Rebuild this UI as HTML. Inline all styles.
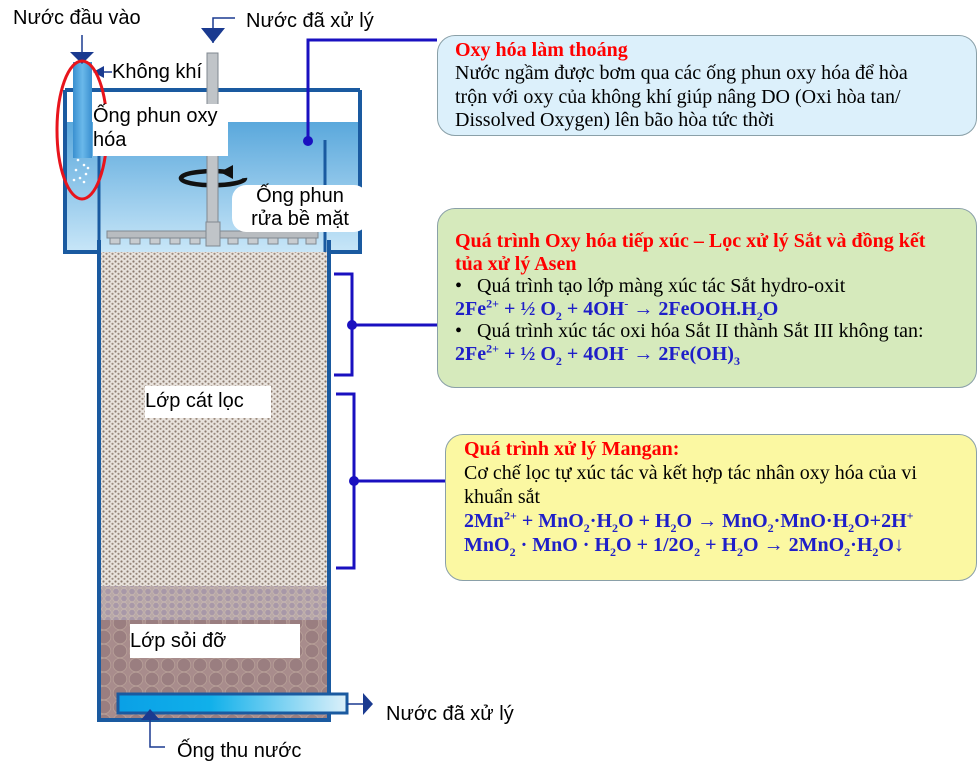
<!DOCTYPE html>
<html><head><meta charset="utf-8"><style>
body{margin:0;width:979px;height:777px;background:#fff;position:relative;overflow:hidden;font-family:"Liberation Sans",sans-serif}
.s{position:absolute;font-family:"Liberation Sans",sans-serif;font-size:20px;color:#000;white-space:nowrap}
.box{position:absolute;border:1.5px solid #8aa0a8;border-radius:18px;box-sizing:border-box;font-family:"Liberation Serif",serif;font-size:20px;line-height:23px;padding:5px 0 0 17px;white-space:nowrap}
.r{color:#f00;font-weight:bold}
.b{color:#1f1fc8;font-weight:bold}
sub,sup{font-size:12px;line-height:0}
</style></head><body>
<svg width="979" height="777" style="position:absolute;left:0;top:0">
<defs>
<linearGradient id="w" x1="0" y1="0" x2="0" y2="1"><stop offset="0" stop-color="#5aa8dc"/><stop offset="1" stop-color="#c8e6f8"/></linearGradient>
<linearGradient id="p" x1="0" y1="0" x2="1" y2="0"><stop offset="0" stop-color="#0aa0e6"/><stop offset="0.4" stop-color="#10b0ea"/><stop offset="1" stop-color="#dcf0fa"/></linearGradient>
<linearGradient id="ip" x1="0" y1="0" x2="1" y2="0"><stop offset="0" stop-color="#3a90d0"/><stop offset="0.5" stop-color="#6ab8ea"/><stop offset="1" stop-color="#3a90d0"/></linearGradient>
<pattern id="sand" width="6" height="5" patternUnits="userSpaceOnUse"><rect width="6" height="5" fill="#e8e2dc"/><circle cx="1.5" cy="1.5" r="1.1" fill="#8a7a6e"/><circle cx="4.5" cy="3.8" r="1.1" fill="#9a8a7e"/></pattern>
<pattern id="g1" width="8" height="7" patternUnits="userSpaceOnUse"><rect width="8" height="7" fill="#b8a8a8"/><circle cx="4" cy="3.5" r="3.2" fill="#a898a8" stroke="#c8b8b0" stroke-width="0.7"/></pattern>
<pattern id="g2" width="16" height="14" patternUnits="userSpaceOnUse"><rect width="16" height="14" fill="#a88c8c"/><circle cx="8" cy="7" r="6.8" fill="#9a7e80" stroke="#b8a098" stroke-width="0.8"/></pattern>
</defs>
<rect x="65" y="92" width="295" height="160" fill="#fff"/>
<rect x="65" y="122" width="295" height="130" fill="url(#w)"/>
<path d="M65 90 V252 H99 M327 252 H360 V90" fill="none" stroke="#1a5aa0" stroke-width="4"/>
<path d="M65 90 H360" fill="none" stroke="#1a5aa0" stroke-width="4"/>
<line x1="325" y1="140" x2="325" y2="252" stroke="#1a5aa0" stroke-width="3"/>
<line x1="99" y1="150" x2="99" y2="252" stroke="#1a5aa0" stroke-width="3"/>
<rect x="99" y="252" width="228" height="334" fill="url(#sand)"/>
<rect x="99" y="586" width="228" height="34" fill="url(#g1)"/>
<rect x="99" y="620" width="228" height="99" fill="url(#g2)"/>
<path d="M99 240 V720 H329 V240" fill="none" stroke="#1a5aa0" stroke-width="4"/>
<rect x="107" y="231" width="211" height="7" fill="#b8bcc0" stroke="#808890"/>
<g fill="#c8ccd0" stroke="#808890" stroke-width="1">
<rect x="110" y="238" width="10" height="6"/><rect x="130" y="238" width="10" height="6"/><rect x="150" y="238" width="10" height="6"/><rect x="170" y="238" width="10" height="6"/><rect x="190" y="238" width="10" height="6"/>
<rect x="228" y="238" width="10" height="6"/><rect x="248" y="238" width="10" height="6"/><rect x="268" y="238" width="10" height="6"/><rect x="288" y="238" width="10" height="6"/><rect x="306" y="238" width="10" height="6"/></g>
<path d="M226 171.8 A32 7 0 1 0 245 178" fill="none" stroke="#111" stroke-width="4.5"/>
<polygon points="220,172 233,165 233,179" fill="#111"/>
<rect x="207" y="53" width="11" height="172" fill="#c0c4c8" stroke="#808890"/>
<rect x="206" y="222" width="14" height="24" fill="#c0c4c8" stroke="#808890"/>
<polygon points="201,28 225,28 213,43" fill="#1a3a90"/>
<path d="M213 43 V18 H235" fill="none" stroke="#1a3a90" stroke-width="1.5"/>
<rect x="73" y="62" width="19" height="96" fill="url(#ip)"/>
<polygon points="70,52 94,52 82,64" fill="#1a3a90"/>
<line x1="82" y1="35" x2="82" y2="55" stroke="#1a3a90" stroke-width="1.5"/>
<polygon points="93,72 104,66 104,78" fill="#1a3a90"/>
<line x1="104" y1="72" x2="112" y2="72" stroke="#1a3a90" stroke-width="1.5"/>
<g fill="#fff"><circle cx="78" cy="160" r="1.3"/><circle cx="84" cy="165" r="1.3"/><circle cx="76" cy="170" r="1.3"/><circle cx="86" cy="174" r="1.3"/><circle cx="80" cy="178" r="1.3"/><circle cx="88" cy="168" r="1.3"/><circle cx="74" cy="180" r="1.3"/><circle cx="84" cy="182" r="1.3"/></g>
<ellipse cx="82" cy="130" rx="25" ry="69" fill="none" stroke="#e8141c" stroke-width="3"/>
<path d="M437 40 H308 V141" fill="none" stroke="#1a10c0" stroke-width="3"/>
<circle cx="308" cy="141" r="5" fill="#1a10c0"/>
<path d="M334 274 H352 V375 H334 M352 325 H437" fill="none" stroke="#1a10c0" stroke-width="3"/>
<circle cx="352" cy="325" r="5" fill="#1a10c0"/>
<path d="M336 394 H354 V568 H336 M354 481 H445" fill="none" stroke="#1a10c0" stroke-width="3"/>
<circle cx="354" cy="481" r="5" fill="#1a10c0"/>
<rect x="118" y="694" width="229" height="19" fill="url(#p)" stroke="#1a5aa0" stroke-width="3"/>
<line x1="347" y1="704" x2="365" y2="704" stroke="#1a3a90" stroke-width="1.5"/>
<polygon points="363,693 373,704 363,715" fill="#1a3a90"/>
<polygon points="141,720 160,720 150,709" fill="#1a3a90"/>
<path d="M150 720 V747 H165" fill="none" stroke="#1a3a90" stroke-width="1.5"/>
</svg>
<div class="s" style="left:13px;top:7px">Nước đầu vào</div>
<div class="s" style="left:246px;top:10px">Nước đã xử lý</div>
<div class="s" style="left:112px;top:61px">Không khí</div>
<div class="s" style="left:93px;top:104px;width:135px;height:52px;background:#fff;line-height:24px;white-space:normal">Ống phun oxy hóa</div>
<div class="s" style="left:232px;top:185px;width:136px;height:47px;background:#fff;border-radius:14px;line-height:23px;text-align:center">Ống phun<br>rửa bề mặt</div>
<div class="s" style="left:145px;top:386px;width:126px;height:32px;background:#fff;line-height:30px">Lớp cát lọc</div>
<div class="s" style="left:130px;top:624px;width:170px;height:34px;background:#fff;line-height:34px">Lớp sỏi đỡ</div>
<div class="s" style="left:386px;top:703px">Nước đã xử lý</div>
<div class="s" style="left:177px;top:740px">Ống thu nước</div>
<div class="box" style="left:437px;top:35px;width:540px;height:101px;background:#dcf0fb;line-height:23.3px;padding-top:3px"><span class="r">Oxy hóa làm thoáng</span><br>Nước ngầm được bơm qua các ống phun oxy hóa để hòa<br>trộn với oxy của không khí giúp nâng DO (Oxi hòa tan/<br>Dissolved Oxygen) lên bão hòa tức thời</div>
<div class="box" style="left:437px;top:208px;width:540px;height:180px;background:#d6eabc;padding-top:21px;line-height:22.6px"><span class="r">Quá trình Oxy hóa tiếp xúc – Lọc xử lý Sắt và đồng kết<br>tủa xử lý Asen</span><br>•&nbsp;&nbsp;&nbsp;Quá trình tạo lớp màng xúc tác Sắt hydro-oxit<br><span class="b">2Fe<sup>2+</sup> + ½ O<sub>2</sub> + 4OH<sup>-</sup> → 2FeOOH.H<sub>2</sub>O</span><br>•&nbsp;&nbsp;&nbsp;Quá trình xúc tác oxi hóa Sắt II thành Sắt III không tan:<br><span class="b">2Fe<sup>2+</sup> + ½ O<sub>2</sub> + 4OH<sup>-</sup> → 2Fe(OH)<sub>3</sub></span></div>
<div class="box" style="left:445px;top:434px;width:532px;height:147px;background:#fbf8a2;padding-left:18px;line-height:24px;padding-top:2px"><span class="r">Quá trình xử lý Mangan:</span><br>Cơ chế lọc tự xúc tác và kết hợp tác nhân oxy hóa của vi<br>khuẩn sắt<br><span class="b">2Mn<sup>2+</sup> + MnO<sub>2</sub>·H<sub>2</sub>O + H<sub>2</sub>O → MnO<sub>2</sub>·MnO·H<sub>2</sub>O+2H<sup>+</sup></span><br><span class="b">MnO<sub>2</sub> · MnO · H<sub>2</sub>O + 1/2O<sub>2</sub> + H<sub>2</sub>O → 2MnO<sub>2</sub>·H<sub>2</sub>O↓</span></div>
</body></html>
